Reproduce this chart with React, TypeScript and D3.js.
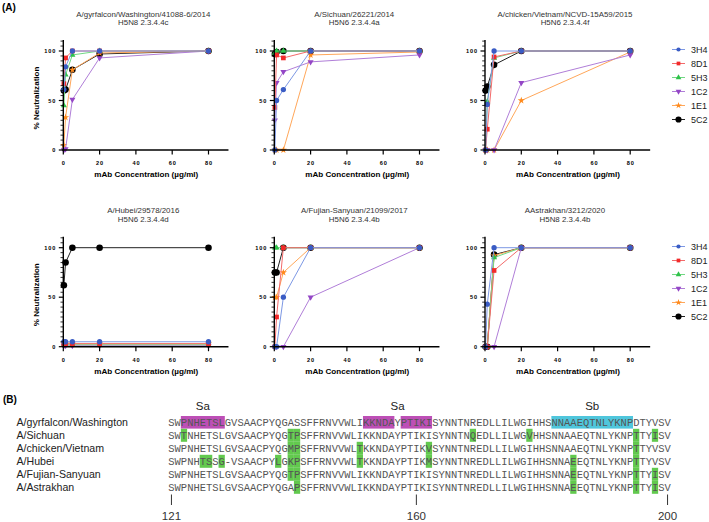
import React from 'react';
import * as d3 from 'd3';

// ---------- DATA ----------
const concentrations = [0.3125, 1.25, 5, 20, 80];
const antibodies = ['3H4', '8D1', '5H3', '1C2', '1E1', '5C2'];
const strainTitles = [
  'A/gyrfalcon/Washington/41088-6/2014',
  'A/Sichuan/26221/2014',
  'A/chicken/Vietnam/NCVD-15A59/2015',
  'A/Hubei/29578/2016',
  'A/Fujian-Sanyuan/21099/2017',
  'AAstrakhan/3212/2020',
];
const strainClades = [
  'H5N8 2.3.4.4c',
  'H5N6 2.3.4.4a',
  'H5N6 2.3.4.4f',
  'H5N6 2.3.4.4d',
  'H5N6 2.3.4.4b',
  'H5N8 2.3.4.4b',
];
// rows follow antibodies order: 3H4, 8D1, 5H3, 1C2, 1E1, 5C2
const gyrfalconValues = [
  [61, 84, 100, 100, 100],
  [67, 93, 100, 100, 100],
  [45, 76, 96, 100, 100],
  [0, 1, 51, 93, 100],
  [5, 33, 81, 98, 100],
  [60, 61, 81, 97, 100],
];
const sichuanValues = [
  [0, 50, 61, 100, 100],
  [43, 96, 93, 100, 100],
  [98, 100, 100, 100, 100],
  [30, 68, 79, 89, 96],
  [0, 0, 0, 96, 99],
  [97, 99, 100, 100, 100],
];
const vietnamValues = [
  [0, 46, 100, 100, 100],
  [0, 21, 94, 100, 100],
  [0, 49, 93, 100, 100],
  [0, 0, 0, 68, 96],
  [0, 0, 0, 50, 99],
  [60, 64, 86, 100, 100],
];
const hubeiValues = [
  [5, 5, 5, 5, 5],
  [3, 3, 3, 3, 3],
  [2, 2, 2, 2, 2],
  [1, 1, 1, 1, 1],
  [3, 3, 3, 3, 3],
  [62, 85, 100, 100, 100],
];
const fujianValues = [
  [0, 0, 50, 100, 100],
  [0, 30, 100, 100, 100],
  [100, 100, 100, 100, 100],
  [0, 0, 0, 50, 100],
  [50, 50, 75, 100, 100],
  [75, 75, 100, 100, 100],
];
const astrakhanValues = [
  [0, 43, 100, 100, 100],
  [0, 0, 77, 100, 100],
  [0, 0, 90, 100, 100],
  [0, 0, 0, 100, 100],
  [0, 0, 92, 100, 100],
  [0, 0, 93, 100, 100],
];
const panelValues = [gyrfalconValues, sichuanValues, vietnamValues, hubeiValues, fujianValues, astrakhanValues];
const xTicks = [0, 20, 40, 60, 80];
const yTicks = [0, 50, 100];

const seqNames = ['A/gyrfalcon/Washington', 'A/Sichuan', 'A/chicken/Vietnam', 'A/Hubei', 'A/Fujian-Sanyuan', 'A/Astrakhan'];
const sequences = [
  'SWPNHETSLGVSAACPYQGASSFFRNVVWLIKKNDAYPTIKISYNNTNREDLLILWGIHHSNNAAEQTNLYKNPDTYVSV',
  'SWTNHETSLGVSAACPYQGTPSFFRNVVWLIKKNDAYPTIKISYNNTNQEDLLILWGVHHSNNAAEQTNLYKNPTTYISV',
  'SWPNHETSLGVSAACPYQGMPSFFRNVVWLTKKNDAYPTIKVSYNNTNREDLLILWGIHHSNNAAEQTNLYKNPTTYVSV',
  'SWPNHTSSG-VSAACPYLGKPSFFRNVVWLTKKNDAYPTIKMSYNNTNREDLLILWGIHHSNNAEEQTNLYKNPTTYVSV',
  'SWPNHETSLGVSAACPYQGTPSFFRNVVWLIKKNDAYPTIKISYNNTNREDLLILWGIHHSNNAEEQTNLYKNPTTYISV',
  'SWPNHETSLGVSAACPYQGAPSFFRNVVWLIKKNDAYPTIKISYNNTNREDLLILWGIHHSNNAEEQTNLYKNPTTYISV',
];
const siteBoxes = [
  { site: 'Sa', from: 2, to: 8 },
  { site: 'Sa', from: 31, to: 35 },
  { site: 'Sa', from: 37, to: 41 },
  { site: 'Sb', from: 61, to: 73 },
];
const siteLabels = [
  { label: 'Sa', from: 2, to: 8 },
  { label: 'Sa', from: 31, to: 41 },
  { label: 'Sb', from: 61, to: 73 },
];
const residueTicks = [121, 160, 200];
const firstResidue = 121;

// ---------- STYLE ----------
const markerColors: Record<string, string> = {
  '3H4': '#3a5cc4', '8D1': '#f22a2a', '5H3': '#2fc24a', '1C2': '#9446c6', '1E1': '#ff8a1c', '5C2': '#000000',
};
const lineColors: Record<string, string> = {
  '3H4': '#7d98e4', '8D1': '#f36a6a', '5H3': '#72d884', '1C2': '#b07ed8', '1E1': '#ffa75a', '5C2': '#222222',
};
const symbolTypes: Record<string, any> = {
  '3H4': d3.symbolCircle, '8D1': d3.symbolSquare, '5H3': d3.symbolTriangle,
  '1C2': d3.symbolTriangle, '1E1': d3.symbolStar, '5C2': d3.symbolCircle,
};
const symbolSizes: Record<string, number> = { '3H4': 22, '8D1': 22, '5H3': 16, '1C2': 16, '1E1': 16, '5C2': 34 };
const siteColors: Record<string, string> = { Sa: '#bd4fb6', Sb: '#4fc6dc' };
const mutColor = '#62c94e';
const SANS = '"Liberation Sans", Arial, sans-serif';
const MONO = '"Liberation Mono", "Courier New", monospace';

const colX = [63.3, 274.3, 485];
const rowBase = [150, 346.7];
const plotW = 145.2; // 0..80
const plotH = 99; // 0..100

function Panel({ idx }: { idx: number }) {
  const col = idx % 3;
  const row = Math.floor(idx / 3);
  const x0 = colX[col];
  const yb = rowBase[row];
  const x = d3.scaleLinear().domain([0, 80]).range([x0, x0 + plotW]);
  const y = d3.scaleLinear().domain([0, 100]).range([yb, yb - plotH]);
  const values = panelValues[idx];
  const line = d3.line<[number, number]>().x((d) => x(d[0])).y((d) => y(d[1]));
  const minor = d3.range(0, 115, 5).filter((v) => v % 50 !== 0);
  const cx = x0 + 80;
  const order = [5, 4, 3, 2, 1, 0];
  return (
    <g>
      <text x={cx} y={yb - 133.5} textAnchor="middle" fontFamily={SANS} fontSize={7.9} fill="#333">{strainTitles[idx]}</text>
      <text x={cx} y={yb - 124.8} textAnchor="middle" fontFamily={SANS} fontSize={7.9} fill="#333">{strainClades[idx]}</text>
      {order.map((a) => {
        const ab = antibodies[a];
        const pts = concentrations.map((c, i) => [c, values[a][i]] as [number, number]);
        return (
          <g key={ab}>
            <path d={line(pts) || ''} fill="none" stroke={lineColors[ab]} strokeWidth={1} />
            {pts.map((p, i) => (
              <path key={i}
                d={d3.symbol().type(symbolTypes[ab]).size(symbolSizes[ab])() || ''}
                transform={`translate(${x(p[0])},${y(p[1])})${ab === '1C2' ? ' rotate(180)' : ''}`}
                fill={markerColors[ab]} />
            ))}
          </g>
        );
      })}
      {/* axes */}
      <line x1={x0} x2={x0} y1={yb + 0.6} y2={y(111)} stroke="#000" strokeWidth={1.4} />
      <line x1={x0 - 0.7} x2={x(91)} y1={yb} y2={yb} stroke="#000" strokeWidth={1.4} />
      {minor.map((v) => (
        <line key={v} x1={x0 - 2.8} x2={x0} y1={y(v)} y2={y(v)} stroke="#000" strokeWidth={0.8} />
      ))}
      {yTicks.map((v) => (
        <g key={v}>
          <line x1={x0 - 4.5} x2={x0} y1={y(v)} y2={y(v)} stroke="#000" strokeWidth={1.2} />
          <text x={x0 - 7} y={y(v) + 2} textAnchor="end" fontFamily={SANS} fontWeight="bold" fontSize={5.6} letterSpacing={0.9} fill="#000">{v}</text>
        </g>
      ))}
      {xTicks.map((v) => (
        <g key={v}>
          <line x1={x(v)} x2={x(v)} y1={yb} y2={yb + 4.5} stroke="#000" strokeWidth={1.2} />
          <text x={x(v) + 0.5} y={yb + 15} textAnchor="middle" fontFamily={SANS} fontWeight="bold" fontSize={5.6} letterSpacing={0.9} fill="#000">{v}</text>
        </g>
      ))}
      <text x={x0 + 83} y={yb + 27} textAnchor="middle" fontFamily={SANS} fontWeight="bold" fontSize={8.1} fill="#000">mAb Concentration (µg/ml)</text>
      {col === 0 && (
        <text transform={`translate(${x0 - 24},${yb - 52}) rotate(-90)`} textAnchor="middle" fontFamily={SANS} fontWeight="bold" fontSize={8.1} fill="#000">% Neutralization</text>
      )}
    </g>
  );
}

function Legend({ top }: { top: number }) {
  return (
    <g>
      {antibodies.map((ab, i) => {
        const yy = top + i * 14;
        return (
          <g key={ab}>
            <line x1={672} x2={685} y1={yy} y2={yy} stroke={lineColors[ab]} strokeWidth={1} />
            <path d={d3.symbol().type(symbolTypes[ab]).size(ab === '5C2' ? 30 : 14)() || ''}
              transform={`translate(678.5,${yy})${ab === '1C2' ? ' rotate(180)' : ''}`} fill={markerColors[ab]} />
            <text x={691} y={yy + 3.3} fontFamily={SANS} fontSize={9} fill="#222">{ab}</text>
          </g>
        );
      })}
    </g>
  );
}

function Alignment() {
  const sx = 168.3;
  const cw = 6.28;
  const rowY = (i: number) => 422.3 + i * 13;
  const ref = sequences[0];
  return (
    <g>
      <text x={3} y={403} fontFamily={SANS} fontWeight="bold" fontSize={10} fill="#000">(B)</text>
      {siteLabels.map((s, i) => (
        <text key={i} x={sx + ((s.from + s.to + 1) / 2) * cw} y={410} textAnchor="middle" fontFamily={SANS} fontSize={11.5} fill="#222">{s.label}</text>
      ))}
      {siteBoxes.map((b, i) => (
        <rect key={i} x={sx + b.from * cw} y={rowY(0) - 6.3} width={(b.to - b.from + 1) * cw} height={12.6} fill={siteColors[b.site]} />
      ))}
      {sequences.map((seq, r) =>
        r === 0 ? null : seq.split('').map((ch, i) =>
          ch !== ref[i] && ch !== '-' ? (
            <rect key={`${r}-${i}`} x={sx + i * cw} y={rowY(r) - 6.5} width={cw} height={13} fill={mutColor} />
          ) : null)
      )}
      {sequences.map((seq, r) => (
        <g key={r}>
          <text x={16.5} y={rowY(r) + 3.8} fontFamily={SANS} fontSize={10.6} fill="#222">{seqNames[r]}</text>
          <text x={sx} y={rowY(r) + 3.6} fontFamily={MONO} fontSize={10.47} fill="#555">{seq}</text>
        </g>
      ))}
      {residueTicks.map((t) => {
        const tx = sx + (t - firstResidue + 0.5) * cw;
        return (
          <g key={t}>
            <line x1={tx} x2={tx} y1={494.5} y2={505} stroke="#333" strokeWidth={1} />
            <text x={tx} y={520} textAnchor="middle" fontFamily={SANS} fontSize={11.5} fill="#333">{t}</text>
          </g>
        );
      })}
    </g>
  );
}

export default function App() {
  return (
    <svg width={709} height={522} style={{ position: 'absolute', left: 0, top: 0, background: '#fff' }}>
      <rect width={709} height={522} fill="#fff" />
      <text x={2} y={11} fontFamily={SANS} fontWeight="bold" fontSize={10} fill="#000">(A)</text>
      {panelValues.map((_, i) => <Panel key={i} idx={i} />)}
      <Legend top={49.5} />
      <Legend top={246.5} />
      <Alignment />
    </svg>
  );
}
